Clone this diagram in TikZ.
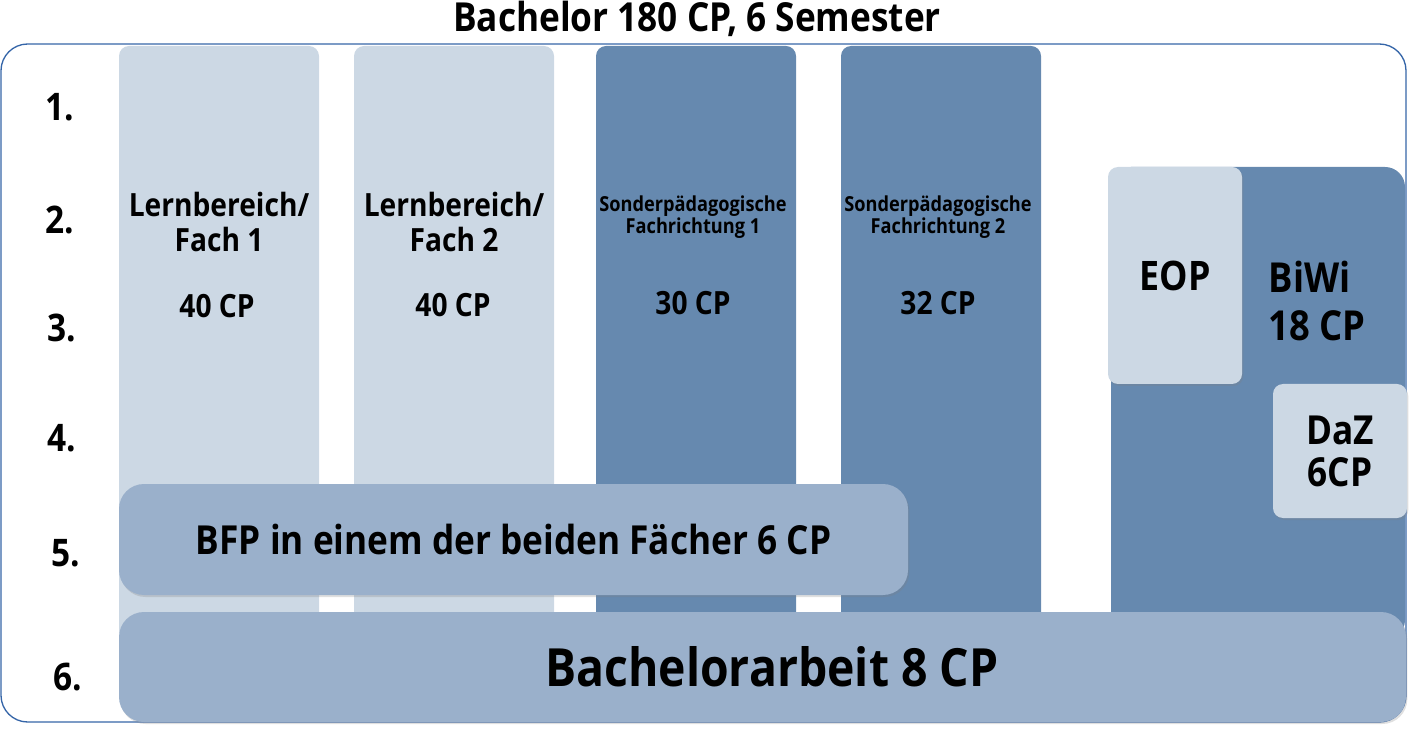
\documentclass[tikz,border=0pt]{standalone}
\usepackage{fontspec}
\setmainfont[FakeStretch=0.88]{Open Sans}
\usepackage{xcolor}
\usepackage{tikz}
\usetikzlibrary{shapes,positioning,shadows}
\definecolor{hell}{HTML}{CCD8E4}
\definecolor{dunkel}{HTML}{6689AF}
\definecolor{mittel}{HTML}{9AB0CB}
\definecolor{rahmen}{HTML}{3565A8}
\tikzset{col/.style={rectangle,rounded corners=7.5pt,minimum width=150pt,minimum height=445.5pt,inner sep=0pt},
         box/.style={rectangle,rounded corners=18.75pt,fill=mittel,inner sep=0pt,font=\bfseries,
                     drop shadow={shadow xshift=1pt,shadow yshift=-1.5pt,opacity=0.25}},
         semlabel/.style={font=\fontsize{28.5}{32}\selectfont\bfseries},
         coltxt/.style={align=center,font=\fontsize{24}{26}\selectfont\bfseries},
         spftxt/.style={align=center,font=\fontsize{15.5}{17}\selectfont\bfseries}}

\begin{document}
\begin{tikzpicture}[x=0.75pt,y=-0.75pt]
    \useasboundingbox (0,0) rectangle (1422,734);
    \node[font=\fontsize{30}{34}\selectfont\bfseries] (titel) at (697,19) {Bachelor 180 CP, 6 Semester};
    \node[draw=rahmen,line width=1pt,rounded corners=20pt,minimum width=1053.75pt,minimum height=508.5pt] (rahmen) at (703.5,383) {};

    \node[semlabel] (s1) at (60,107) {1.};
    \node[semlabel] (s2) at (60,220) {2.};
    \node[semlabel] (s3) at (62,328) {3.};
    \node[semlabel] (s4) at (62,438) {4.};
    \node[semlabel] (s5) at (66,553) {5.};
    \node[semlabel] (s6) at (68,677) {6.};

    \node[col,fill=hell] (fach1) at (219,343) {};
    \node[col,fill=hell] (fach2) at (454,343) {};
    \node[col,fill=dunkel] (spf1) at (696,343) {};
    \node[col,fill=dunkel] (spf2) at (941,343) {};

    \node[coltxt] (fach1txt) at (219,222) {Lernbereich/\\Fach 1};
    \node[coltxt] (fach2txt) at (454,222) {Lernbereich/\\Fach 2};
    \node[coltxt] (fach1cp) at (217,306) {40 CP};
    \node[coltxt] (fach2cp) at (453,305) {40 CP};
    \node[spftxt] (spf1txt) at (693,217) {Sonderpädagogische\\Fachrichtung 1};
    \node[spftxt] (spf2txt) at (938,217) {Sonderpädagogische\\Fachrichtung 2};
    \node[coltxt] (spf1cp) at (693,303) {30 CP};
    \node[coltxt] (spf2cp) at (938,303) {32 CP};

    % Bildungswissenschaften
    \node[rectangle,fill=dunkel,rounded corners=15pt,minimum width=220.5pt,minimum height=354.75pt] (biwi) at (1258,403.5) {};
    \node[anchor=west,align=left,font=\fontsize{31}{36}\selectfont\bfseries] (biwitxt) at (1264,301) {BiWi\\18 CP};
    \node[box,fill=hell,rounded corners=7.5pt,minimum width=100.5pt,minimum height=162.75pt,
          font=\fontsize{30.5}{34}\selectfont\bfseries] (eop) at (1175,275.5) {EOP};
    \node[box,fill=hell,rounded corners=7.5pt,minimum width=100.5pt,minimum height=100.5pt,align=center,
          font=\fontsize{30}{31.5}\selectfont\bfseries] (daz) at (1340,451) {DaZ\\6CP};

    \node[box,minimum width=591.75pt,minimum height=83.25pt,font=\fontsize{30}{34}\selectfont\bfseries] (bfp) at (513.5,539.5) {BFP in einem der beiden Fächer 6 CP};
    \node[box,minimum width=965.25pt,minimum height=82.5pt,font=\fontsize{39.5}{44}\selectfont\bfseries] (ba) at (762.5,667) {\hspace{14pt}Bachelorarbeit 8 CP};
\end{tikzpicture}
\end{document}
